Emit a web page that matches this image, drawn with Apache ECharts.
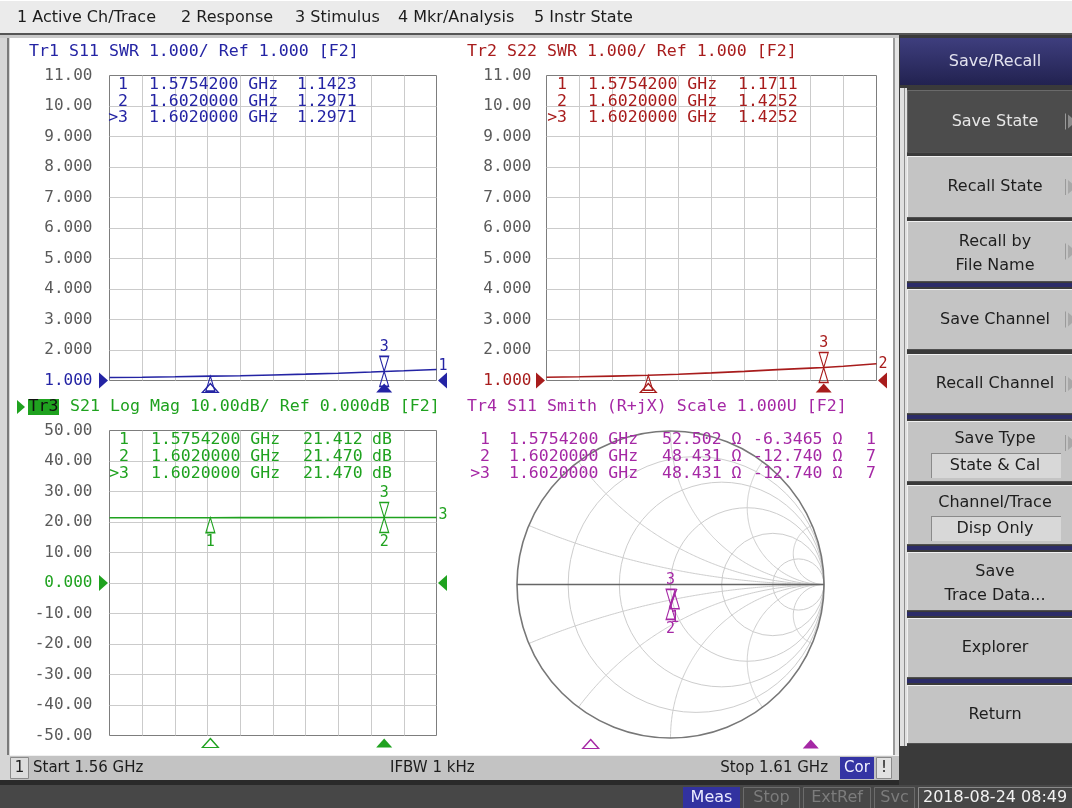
<!DOCTYPE html>
<html>
<head>
<meta charset="utf-8">
<title>Save/Recall</title>
<script src="https://cdn.jsdelivr.net/npm/echarts@6.0.0/dist/echarts.min.js"></script>
<style>
html,body{margin:0;padding:0;overflow:hidden;background:#d8d8d8}
#scr{width:1072px;height:808px}
</style>
</head>
<body>
<div id="scr"></div>
<script>
// ---- sweep data (frequency in MHz) ----
const freqMHz = [1560, 1565, 1570, 1575.42, 1580, 1585, 1590, 1595, 1600, 1602, 1605, 1610];
// Tr1: S11 SWR
const s11Swr  = [1.100, 1.108, 1.122, 1.1423, 1.158, 1.182, 1.208, 1.240, 1.278, 1.2971, 1.318, 1.362];
// Tr2: S22 SWR
const s22Swr  = [1.105, 1.122, 1.145, 1.1711, 1.205, 1.250, 1.300, 1.355, 1.405, 1.4252, 1.465, 1.550];
// Tr3: S21 log magnitude, dB
const s21dB   = [21.380, 21.390, 21.401, 21.412, 21.420, 21.430, 21.440, 21.452, 21.463, 21.470, 21.474, 21.480];
// Tr4: S11 impedance R + jX, ohm
const s11R    = [54.20, 53.60, 53.00, 52.502, 52.00, 51.20, 50.30, 49.40, 48.70, 48.431, 48.00, 47.00];
const s11X    = [-3.10, -4.20, -5.30, -6.3465, -7.40, -8.60, -9.80, -11.10, -12.30, -12.740, -13.50, -15.00];

// ---- markers ----
const markerId  = ['1', '2', '>3'];
const markerMHz = [1575.42, 1602, 1602];
const mkS11Swr  = [1.1423, 1.2971, 1.2971];
const mkS22Swr  = [1.1711, 1.4252, 1.4252];
const mkS21dB   = [21.412, 21.470, 21.470];
const mkS11R    = [52.502, 48.431, 48.431];
const mkS11X    = [-6.3465, -12.740, -12.740];
const mkS11Aux  = ['1', '7', '7'];

// ---- tick labels ----
const swrTicks = ['1.000', '2.000', '3.000', '4.000', '5.000', '6.000', '7.000', '8.000', '9.000', '10.00', '11.00'];
const dbTicks  = ['-50.00', '-40.00', '-30.00', '-20.00', '-10.00', '0.000', '10.00', '20.00', '30.00', '40.00', '50.00'];
const smithR   = [0.2, 0.5, 1, 2, 5];
const smithX   = [0.2, 0.5, 1, 2, 5];

const C = {tr1: '#2424a4', tr2: '#a81c1c', tr3: '#1fa21f', tr4: '#a528a5',
           lab: '#5a5a5a', grid: '#cbcbcb', frame: '#7d7d7d'};
const MONO = '"DejaVu Sans Mono", monospace';
const SANS = '"DejaVu Sans", sans-serif';

const TRI_UP = 'path://M5,0L10,16L0,16Z';
const TRI_DN = 'path://M0,0L10,0L5,16Z';
const TRI_R  = 'path://M0,0L10,8L0,16Z';
const TRI_L  = 'path://M10,0L0,8L10,16Z';

// normalized impedance -> reflection coefficient
function gamma(r, x) {
  const d = (r + 1) * (r + 1) + x * x;
  return [(r * r - 1 + x * x) / d, 2 * x / d];
}
const fmtF = m => (m / 1000).toFixed(7) + ' GHz';
const hollow = col => ({color: 'rgba(255,255,255,0)', borderColor: col, borderWidth: 1.3, opacity: 1});
const solid = col => ({color: col, opacity: 1});
const mkLabel = (t, pos, col) => ({show: true, formatter: t, position: pos, distance: 1,
  color: col, fontFamily: MONO, fontSize: 15});

function markerItems(col, vals, lowLabels) {
  return markerId.map((id, i) => {
    const n = id.replace('>', '');
    const active = id.charAt(0) === '>';
    return {
      value: [markerMHz[i], vals[i]],
      symbol: active ? TRI_DN : TRI_UP,
      symbolSize: [9, 15],
      symbolOffset: [0, active ? -7.5 : 7.5],
      itemStyle: hollow(col),
      label: active ? mkLabel(n, 'top', col) : (lowLabels ? mkLabel(n, 'bottom', col) : {show: false})
    };
  });
}
function stimItems(col, yBase) {
  return [
    {value: [markerMHz[0], yBase], symbol: TRI_UP, symbolSize: [16, 9], symbolOffset: [0, 7.5], itemStyle: hollow(col)},
    {value: [markerMHz[2], yBase], symbol: TRI_UP, symbolSize: [16, 9], symbolOffset: [0, 7.5], itemStyle: solid(col)}
  ];
}
function refItems(col, yRef) {
  return [
    {value: [freqMHz[0], yRef], symbol: TRI_R, symbolSize: [9, 16], symbolOffset: [-6, 0], itemStyle: solid(col)},
    {value: [freqMHz[freqMHz.length - 1], yRef], symbol: TRI_L, symbolSize: [9, 16], symbolOffset: [6, 0], itemStyle: solid(col)}
  ];
}
function scatter(ai, data) {
  return {type: 'scatter', xAxisIndex: ai, yAxisIndex: ai, data, clip: false, silent: true, z: 6,
    itemStyle: {opacity: 1}};
}
function trace(ai, data, col, endText, endOffset) {
  return {type: 'line', xAxisIndex: ai, yAxisIndex: ai, data, showSymbol: false, symbol: 'none',
    silent: true, z: 4, lineStyle: {color: col, width: 1.6}, itemStyle: {color: col},
    endLabel: endText ? {show: true, formatter: endText, color: col, fontFamily: MONO, fontSize: 15,
      distance: 2, offset: endOffset || [0, 0]} : {show: false}};
}

// ---- axes ----
function freqAxis(gi) {
  return {gridIndex: gi, type: 'value', min: 1560, max: 1610, interval: 5,
    axisLine: {show: false}, axisTick: {show: false}, axisLabel: {show: false},
    splitLine: {show: true, showMinLine: false, showMaxLine: false, lineStyle: {color: C.grid, width: 1}}};
}
function levelAxis(gi, min, max, step, ticks, refVal, refCol, margin) {
  return {gridIndex: gi, type: 'value', min, max, interval: step,
    axisLine: {show: false}, axisTick: {show: false},
    splitLine: {show: true, showMinLine: false, showMaxLine: false, lineStyle: {color: C.grid, width: 1}},
    axisLabel: {show: true, showMinLabel: true, showMaxLabel: true, margin, color: C.lab,
      fontFamily: MONO, fontSize: 16,
      formatter: v => {
        const t = ticks[Math.round((v - min) / step)];
        return v === refVal ? '{r|' + t + '}' : t;
      },
      rich: {r: {color: refCol, fontFamily: MONO, fontSize: 16}}}};
}

// ---- Smith chart grid, drawn in reflection-coefficient coordinates ----
function smithGrid(params, api) {
  const c = api.coord([0, 0]);
  const R = api.size([1, 1])[0];
  const thin = {stroke: '#cdcdcd', fill: 'none', lineWidth: 1};
  const kids = [];
  smithR.forEach(r => {
    kids.push({type: 'circle', shape: {cx: c[0] + r / (r + 1) * R, cy: c[1], r: R / (r + 1)}, style: thin});
  });
  smithX.forEach(x => {
    [x, -x].forEach(xx => {
      const pts = [];
      for (let i = 0; i <= 160; i++) {
        const t = i / 160 * Math.PI / 2 * 0.9995;
        pts.push(api.coord(gamma(Math.tan(t), xx)));
      }
      kids.push({type: 'polyline', shape: {points: pts}, style: thin});
    });
  });
  kids.push({type: 'circle', shape: {cx: c[0], cy: c[1], r: R}, style: {stroke: '#777', fill: 'none', lineWidth: 1.6}});
  kids.push({type: 'line', shape: {x1: c[0] - R, y1: c[1], x2: c[0] + R, y2: c[1]}, style: {stroke: '#666', lineWidth: 1.6}});
  return {type: 'group', children: kids};
}

// ---- screen furniture ----
const G = [];
function box(x, y, w, h, fill, stroke, z) {
  G.push({type: 'rect', silent: true, z: z == null ? -10 : z, shape: {x, y, width: w, height: h},
    style: {fill: fill || 'none', stroke: stroke || null, lineWidth: 1}});
}
function text(x, y, t, o) {
  o = o || {};
  G.push({type: 'text', silent: true, z: o.z == null ? 40 : o.z, x, y,
    style: {text: t, fill: o.color || '#1c1c1c', fontFamily: o.font || SANS, fontSize: o.size || 16,
      fontWeight: o.weight || 'normal', align: o.align || 'left', verticalAlign: 'middle'}});
}
function poly(points, fill, z) {
  G.push({type: 'polygon', silent: true, z: z == null ? 40 : z, shape: {points}, style: {fill}});
}

// menu bar
box(0, 0, 1072, 34, '#ebebeb');
box(0, 0, 1072, 1, '#ffffff');
box(0, 33, 1072, 2, '#555555');
box(0, 35, 1072, 3, '#c9c9c9');
[['1 Active Ch/Trace', 17], ['2 Response', 181], ['3 Stimulus', 295], ['4 Mkr/Analysis', 398], ['5 Instr State', 534]]
  .forEach(m => text(m[1], 18, m[0], {size: 16}));

// display area
box(0, 38, 10, 746, '#d6d6d6');
box(7, 38, 2, 717, '#7a7a7a');
box(10, 38, 884, 717, '#ffffff');
box(893, 38, 2, 717, '#9a9a9a');
box(895, 38, 4, 717, '#e4e4e4');

// status line
box(10, 755, 889, 25, '#c3c3c3');
box(10, 755, 889, 1, '#f0f0f0');
box(10.5, 757.5, 18, 21, '#dcdcdc', '#8a8a8a');
text(19.5, 768, '1', {size: 15, align: 'center'});
text(33, 768, 'Start ' + (freqMHz[0] / 1000) + ' GHz', {size: 15});
text(390, 768, 'IFBW 1 kHz', {size: 15});
text(828, 768, 'Stop ' + (freqMHz[freqMHz.length - 1] / 1000) + ' GHz', {size: 15, align: 'right'});
box(840, 757, 34, 22, '#3434a4');
text(857, 768, 'Cor', {size: 15, align: 'center', color: '#f4f4ff'});
box(876.5, 757.5, 15, 21, '#e2e2e2', '#8a8a8a');
text(884, 768, '!', {size: 15, align: 'center'});

// bottom bar
box(0, 780, 1072, 28, '#474747');
box(0, 780, 1072, 5, '#2a2a2a');
box(683, 787, 57, 21, '#3232a0');
text(711.5, 798, 'Meas', {size: 16, align: 'center', color: '#ececff'});
[['Stop', 743.5, 56], ['ExtRef', 803.5, 67], ['Svc', 874.5, 40]].forEach(b => {
  box(b[1], 787.5, b[2], 21, '#474747', '#6c6c6c');
  text(b[1] + b[2] / 2, 798, b[0], {size: 16, align: 'center', color: '#7c7c7c'});
});
box(918.5, 787.5, 154, 21, '#474747', '#8a8a8a');
text(923, 798, '2018-08-24 08:49', {size: 16, color: '#f2f2f2'});

// softkey panel
box(899, 35, 173, 750, '#3a3a3a');
G.push({type: 'rect', silent: true, z: -9, shape: {x: 900, y: 38, width: 172, height: 47},
  style: {fill: {type: 'linear', x: 0, y: 0, x2: 0, y2: 1,
    colorStops: [{offset: 0, color: '#3e3e7e'}, {offset: 1, color: '#222250'}]}}});
text(995, 62, 'Save/Recall', {size: 16, align: 'center', color: '#e2e2ee'});
box(900, 88, 7, 658, '#e0e0e0');
box(904, 88, 1, 658, '#8c8c8c');
const softkeys = [
  {y0: 90,  y1: 153, lines: ['Save State'], sel: true, arrow: true},
  {y0: 156, y1: 218, lines: ['Recall State'], arrow: true},
  {y0: 221, y1: 282, lines: ['Recall by', 'File Name'], arrow: true},
  {y0: 289, y1: 350, lines: ['Save Channel'], arrow: true},
  {y0: 354, y1: 414, lines: ['Recall Channel'], arrow: true},
  {y0: 421, y1: 482, lines: ['Save Type'], field: 'State & Cal', arrow: true},
  {y0: 485, y1: 545, lines: ['Channel/Trace'], field: 'Disp Only'},
  {y0: 552, y1: 611, lines: ['Save', 'Trace Data...']},
  {y0: 618, y1: 678, lines: ['Explorer']},
  {y0: 685, y1: 744, lines: ['Return']}
];
[285, 417, 548, 614, 681].forEach(y => box(907, y - 2, 165, 4, '#2c2c68', null, -8));
softkeys.forEach(k => {
  const h = k.y1 - k.y0, mid = (k.y0 + k.y1) / 2;
  box(907, k.y0, 165, h, k.sel ? '#4c4c4c' : '#c4c4c4', null, -8);
  box(907, k.y0, 165, 1, k.sel ? '#6a6a6a' : '#f0f0f0', null, -7);
  box(907, k.y0, 1, h, k.sel ? '#6a6a6a' : '#f0f0f0', null, -7);
  box(907, k.y1 - 1, 165, 1, '#505050', null, -7);
  const col = k.sel ? '#e6e6e6' : '#1e1e1e';
  if (k.field) {
    text(995, k.y0 + 18, k.lines[0], {size: 16, align: 'center', color: col});
    const fy = k.y1 - 29;
    box(931, fy, 130, 25, '#d8d8d8', null, -7);
    box(931, fy, 130, 1, '#8a8a8a', null, -6);
    box(931, fy, 1, 25, '#8a8a8a', null, -6);
    text(995, fy + 13, k.field, {size: 16, align: 'center', color: col});
  } else if (k.lines.length === 2) {
    text(995, mid - 10, k.lines[0], {size: 16, align: 'center', color: col});
    text(995, mid + 14, k.lines[1], {size: 16, align: 'center', color: col});
  } else {
    text(995, mid, k.lines[0], {size: 16, align: 'center', color: col});
  }
  if (k.arrow) {
    const ay = k.field ? k.y0 + 22 : mid;
    box(1065, ay - 8, 1, 16, '#9a9a9a', null, -6);
    poly([[1068, ay - 7], [1076, ay], [1068, ay + 7]], k.sel ? '#8a8a8a' : '#a8a8a8', -6);
  }
});

// trace titles
text(29, 52, 'Tr1 S11 SWR 1.000/ Ref 1.000 [F2]', {font: MONO, size: 16.6, color: C.tr1});
text(467, 52, 'Tr2 S22 SWR 1.000/ Ref 1.000 [F2]', {font: MONO, size: 16.6, color: C.tr2});
poly([[17, 400], [25, 407], [17, 414]], C.tr3);
box(28, 399, 31, 16, C.tr3, null, 30);
text(43.5, 407, 'Tr3', {font: MONO, size: 16.6, color: '#101010', align: 'center'});
text(70, 407, 'S21 Log Mag 10.00dB/ Ref 0.000dB [F2]', {font: MONO, size: 16.6, color: C.tr3});
text(467, 407, 'Tr4 S11 Smith (R+jX) Scale 1.000U [F2]', {font: MONO, size: 16.6, color: C.tr4});

// marker readouts
const rowTop = [85, 101.5, 118], rowBot = [440, 457, 473.5];
const tOpt = col => ({font: MONO, size: 16.5, color: col});
markerId.forEach((id, i) => {
  // Tr1
  text(128, rowTop[i], id, Object.assign(tOpt(C.tr1), {align: 'right'}));
  text(149, rowTop[i], fmtF(markerMHz[i]), tOpt(C.tr1));
  text(297, rowTop[i], mkS11Swr[i].toPrecision(5), tOpt(C.tr1));
  // Tr2
  text(567, rowTop[i], id, Object.assign(tOpt(C.tr2), {align: 'right'}));
  text(588, rowTop[i], fmtF(markerMHz[i]), tOpt(C.tr2));
  text(738, rowTop[i], mkS22Swr[i].toPrecision(5), tOpt(C.tr2));
  // Tr3
  text(129, rowBot[i], id, Object.assign(tOpt(C.tr3), {align: 'right'}));
  text(151, rowBot[i], fmtF(markerMHz[i]), tOpt(C.tr3));
  text(303, rowBot[i], mkS21dB[i].toPrecision(5), tOpt(C.tr3));
  text(372, rowBot[i], 'dB', tOpt(C.tr3));
  // Tr4
  text(490, rowBot[i], id, Object.assign(tOpt(C.tr4), {align: 'right'}));
  text(509, rowBot[i], fmtF(markerMHz[i]), tOpt(C.tr4));
  text(662, rowBot[i], mkS11R[i].toPrecision(5) + ' Ω', tOpt(C.tr4));
  text(753, rowBot[i], mkS11X[i].toPrecision(5) + ' Ω', tOpt(C.tr4));
  text(866, rowBot[i], mkS11Aux[i], tOpt(C.tr4));
});

// ---- series ----
const zip = (xs, ys) => xs.map((x, i) => [x, ys[i]]);
const smithPts = freqMHz.map((f, i) => gamma(s11R[i] / 50, s11X[i] / 50));
const smithMk = markerId.map((id, i) => gamma(mkS11R[i] / 50, mkS11X[i] / 50));

const series = [
  trace(0, zip(freqMHz, s11Swr), C.tr1, '1', [0, -3]),
  scatter(0, markerItems(C.tr1, mkS11Swr, false).concat(stimItems(C.tr1, 1), refItems(C.tr1, 1))),
  trace(1, zip(freqMHz, s22Swr), C.tr2, '2', [0, 0]),
  scatter(1, markerItems(C.tr2, mkS22Swr, false).concat(stimItems(C.tr2, 1), refItems(C.tr2, 1))),
  trace(2, zip(freqMHz, s21dB), C.tr3, '3', [0, -2]),
  scatter(2, markerItems(C.tr3, mkS21dB, true).concat(stimItems(C.tr3, -50), refItems(C.tr3, 0))),
  {type: 'custom', xAxisIndex: 3, yAxisIndex: 3, data: [[0, 0]], renderItem: smithGrid, silent: true, clip: false, z: 1},
  {type: 'line', xAxisIndex: 3, yAxisIndex: 3, data: smithPts, smooth: true, showSymbol: false, symbol: 'none',
    silent: true, z: 4, lineStyle: {color: C.tr4, width: 1.6}},
  scatter(3, markerId.map((id, i) => {
    const n = id.replace('>', ''), active = id.charAt(0) === '>';
    return {value: smithMk[i], symbol: active ? TRI_DN : TRI_UP, symbolSize: [9, 15],
      symbolOffset: [0, active ? -7.5 : 7.5], itemStyle: hollow(C.tr4),
      label: mkLabel(n, active ? 'top' : 'bottom', C.tr4)};
  })),
  scatter(4, stimItems(C.tr4, 0))
];

const frameGrid = (left, top, width, height) =>
  ({left, top, width, height, show: true, borderColor: C.frame, borderWidth: 1, backgroundColor: 'transparent'});

const option = {
  animation: false,
  backgroundColor: '#d8d8d8',
  grid: [
    frameGrid(109.5, 75.5, 327, 305),
    frameGrid(546.5, 75.5, 330, 305),
    frameGrid(109.5, 430.5, 327, 305),
    {left: 517, top: 431, width: 307, height: 307, show: false},
    {left: 463, top: 735.5, width: 414, height: 1, show: false}
  ],
  xAxis: [
    freqAxis(0), freqAxis(1), freqAxis(2),
    {gridIndex: 3, type: 'value', min: -1, max: 1, show: false},
    {gridIndex: 4, type: 'value', min: 1560, max: 1610, show: false}
  ],
  yAxis: [
    levelAxis(0, 1, 11, 1, swrTicks, 1, C.tr1, 17),
    levelAxis(1, 1, 11, 1, swrTicks, 1, C.tr2, 15),
    levelAxis(2, -50, 50, 10, dbTicks, 0, C.tr3, 17),
    {gridIndex: 3, type: 'value', min: -1, max: 1, show: false},
    {gridIndex: 4, type: 'value', min: 0, max: 1, show: false}
  ],
  graphic: {elements: G},
  series
};

const chart = echarts.init(document.getElementById('scr'), null, {renderer: 'canvas', width: 1072, height: 808});
chart.setOption(option);
</script>
</body>
</html>
